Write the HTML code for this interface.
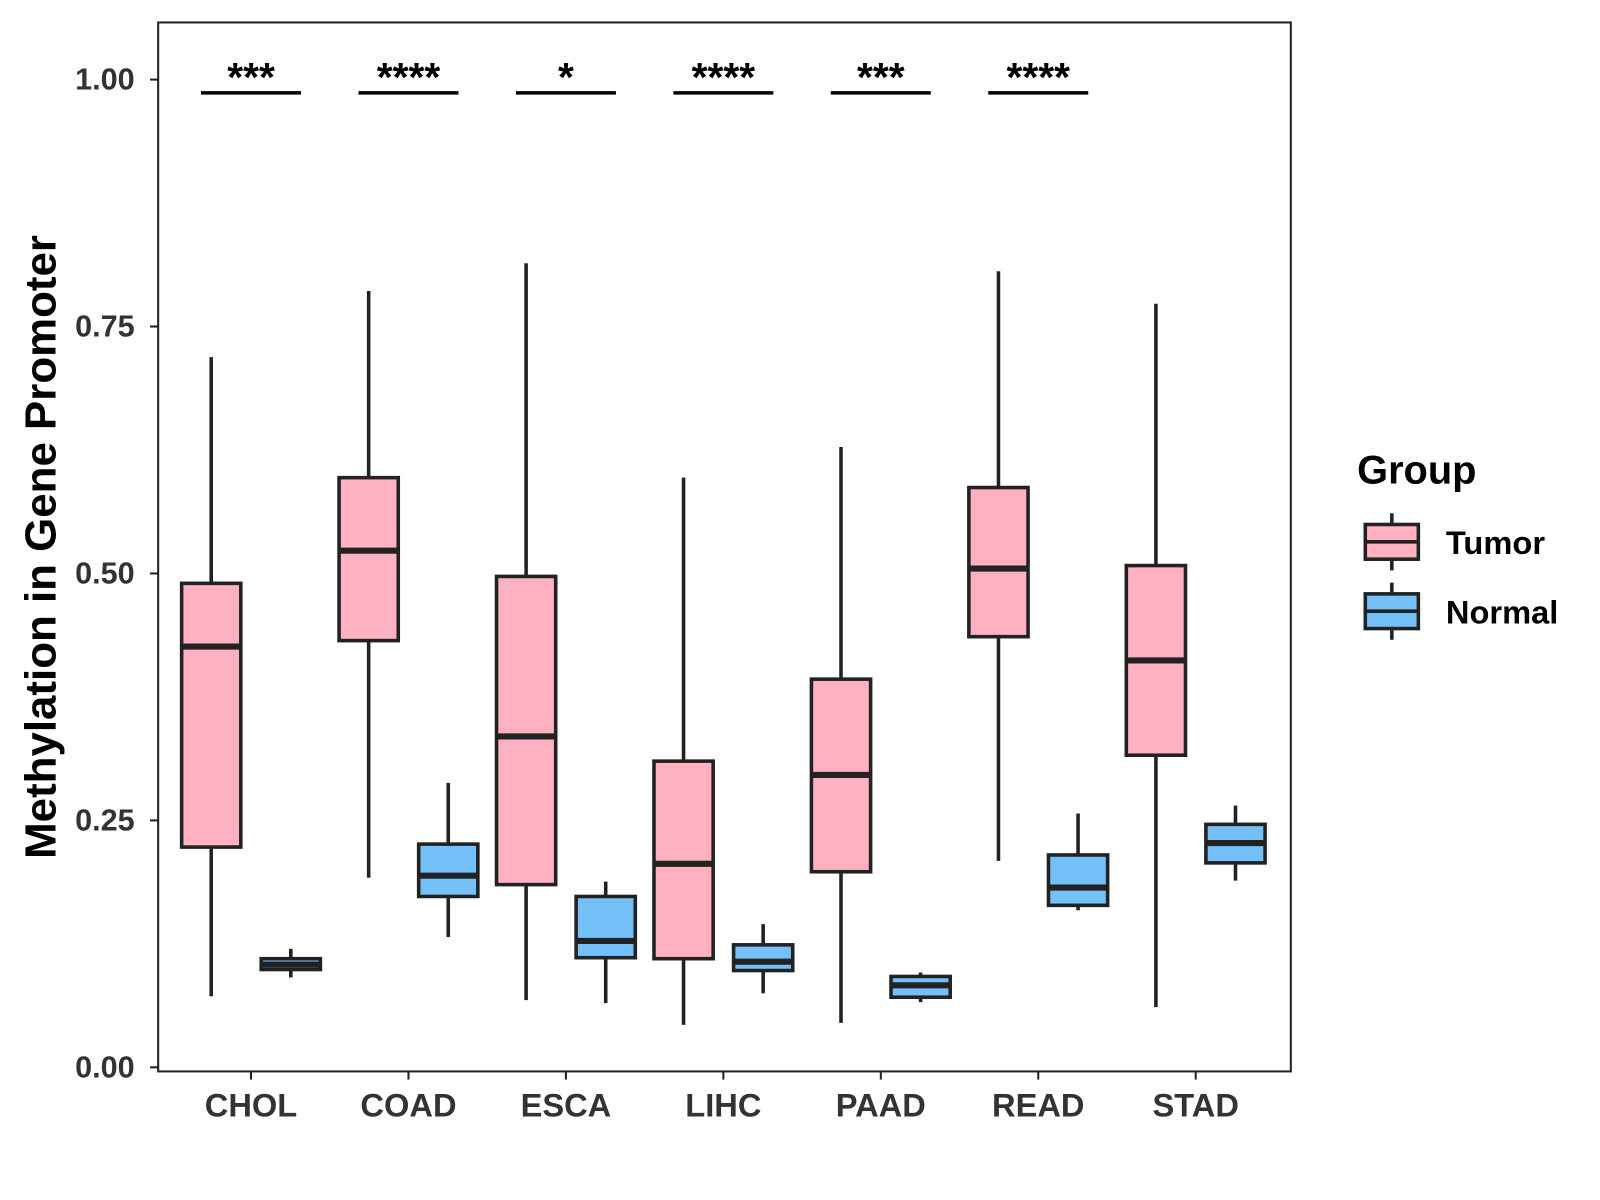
<!DOCTYPE html>
<html><head><meta charset="utf-8"><style>body{margin:0;background:#fff}svg{display:block}text{font-family:"Liberation Sans",Arial,sans-serif;font-weight:bold}</style></head>
<body>
<svg id="chart" width="1600" height="1200" viewBox="0 0 1600 1200">
<g transform="scale(1.0204)">
<rect x="155" y="22" width="1110" height="1028" fill="#fff" stroke="#222" stroke-width="2"/>
<g id="yaxis"></g>
<g id="xaxis"></g>
<g id="boxes"></g>
<g id="sig"></g>
<text x="40" y="536" transform="rotate(-90 40 536)" text-anchor="middle" dominant-baseline="central" font-size="43" fill="#000">Methylation in Gene Promoter</text>
<g>
<text x="1330" y="474" font-size="39" fill="#000">Group</text>
<g>
<line x1="1364" y1="503" x2="1364" y2="559" stroke="#222" stroke-width="3.5"/>
<rect x="1338" y="514" width="52" height="34" fill="#FFB0C1" stroke="#222" stroke-width="3.5"/>
<line x1="1338" y1="531" x2="1390" y2="531" stroke="#222" stroke-width="3.5"/>
<text x="1417" y="543" font-size="32" fill="#000">Tumor</text></g>
<g>
<line x1="1364" y1="571" x2="1364" y2="627" stroke="#222" stroke-width="3.5"/>
<rect x="1338" y="582" width="52" height="34" fill="#74C0F8" stroke="#222" stroke-width="3.5"/>
<line x1="1338" y1="599" x2="1390" y2="599" stroke="#222" stroke-width="3.5"/>
<text x="1417" y="611" font-size="32" fill="#000">Normal</text></g>
</g>
</g>
</svg>
<script>
const categories=["CHOL","COAD","ESCA","LIHC","PAAD","READ","STAD"];
// [low, q1, median, q3, high]
const tumorStats=[[0.072,0.223,0.426,0.490,0.719],[0.192,0.432,0.523,0.597,0.786],[0.068,0.185,0.335,0.497,0.814],[0.043,0.110,0.206,0.310,0.597],[0.045,0.198,0.296,0.393,0.628],[0.209,0.436,0.505,0.587,0.806],[0.061,0.316,0.412,0.508,0.773]];
const normalStats=[[0.091,0.099,0.104,0.110,0.120],[0.132,0.173,0.194,0.226,0.288],[0.065,0.111,0.128,0.173,0.188],[0.075,0.098,0.107,0.124,0.145],[0.066,0.071,0.083,0.092,0.096],[0.159,0.164,0.182,0.215,0.257],[0.189,0.207,0.227,0.246,0.265]];
const sigLabels=["***","****","*","****","***","****"];
const yTicks=[0,0.25,0.5,0.75,1.0];
const yTickLabels=["0.00","0.25","0.50","0.75","1.00"];
const NS="http://www.w3.org/2000/svg";
const y=v=>1046-v*968;
const x=i=>246+i*154.3;
function mk(tag,attrs,parent,txt){const e=document.createElementNS(NS,tag);for(const k in attrs)e.setAttribute(k,attrs[k]);if(txt!==undefined)e.textContent=txt;parent.appendChild(e);return e;}
const ya=document.getElementById('yaxis');
yTicks.forEach((t,i)=>{
 const l=mk('line',{x1:147,x2:155,y1:y(t),y2:y(t),stroke:'#222','stroke-width':2},ya);
 
 
 const tx=mk('text',{x:132,y:y(t),'text-anchor':'end','dominant-baseline':'central','font-size':30,fill:'#333'},ya,yTickLabels[i]);
 
 
});
const xa=document.getElementById('xaxis');
categories.forEach((c,i)=>{
 const l=mk('line',{x1:x(i),x2:x(i),y1:1050,y2:1058,stroke:'#222','stroke-width':2},xa);
 
 
 const tx=mk('text',{x:x(i),y:1094,'text-anchor':'middle','font-size':32,fill:'#333'},xa,c);
 
 
});
const bx=document.getElementById('boxes');
function box(cx,s,fill,name){
 const g=mk('g',{},bx);
 
 
 mk('line',{x1:cx,x2:cx,y1:y(s[0]),y2:y(s[4]),stroke:'#222','stroke-width':3.5},g);
 mk('rect',{x:cx-29,y:y(s[3]),width:58,height:y(s[1])-y(s[3]),fill:fill,stroke:'#222','stroke-width':3.5},g);
 mk('line',{x1:cx-29,x2:cx+29,y1:y(s[2]),y2:y(s[2]),stroke:'#222','stroke-width':6},g);
}
categories.forEach((c,i)=>{
 box(x(i)-39,tumorStats[i],'#FFB0C1','box-tumor-'+c.toLowerCase());
 box(x(i)+39,normalStats[i],'#74C0F8','box-normal-'+c.toLowerCase());
});
const sg=document.getElementById('sig');
sigLabels.forEach((s,i)=>{
 const l=mk('line',{x1:x(i)-49,x2:x(i)+49,y1:91,y2:91,stroke:'#000','stroke-width':3.5},sg);
 
 
 const t=mk('text',{x:x(i),y:89,'text-anchor':'middle','font-size':40,fill:'#000'},sg,s);
 
 
});
</script>
</body></html>
